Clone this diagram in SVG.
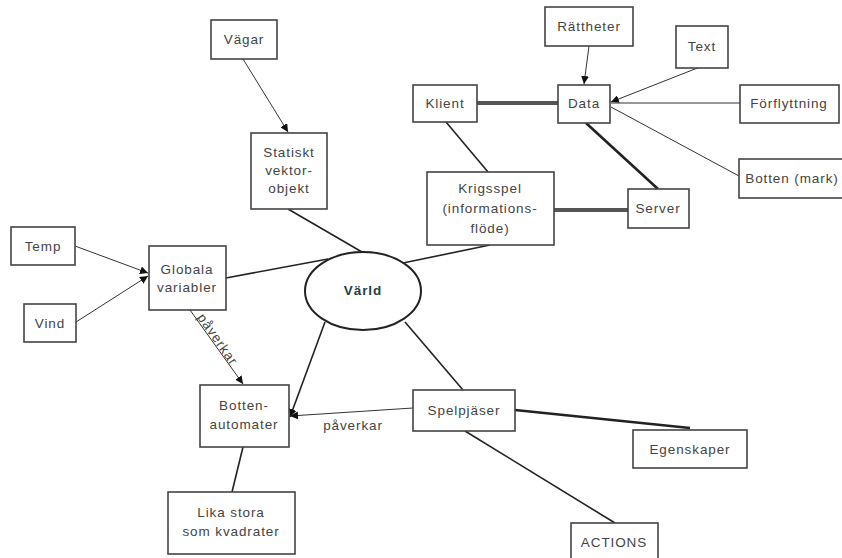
<svg xmlns="http://www.w3.org/2000/svg" width="842" height="558" viewBox="0 0 842 558">
<defs>
<marker id="arr" viewBox="0 0 10 10" refX="10" refY="5" markerWidth="8" markerHeight="8" markerUnits="userSpaceOnUse" orient="auto">
<path d="M0,0 L10,5 L0,10 z" fill="#111"/>
</marker>
</defs>
<style>
.box{fill:#fff;stroke:#444;stroke-width:1.6}
.t{font-family:"Liberation Sans",Arial,sans-serif;font-size:13.5px;letter-spacing:0.9px;fill:#444;text-anchor:middle}
.c{fill:none;stroke:#222;stroke-width:1.6}
.thin{fill:none;stroke:#333;stroke-width:1}
.thick{fill:none;stroke:#222;stroke-width:2.6}
.dbl{fill:none;stroke:#555;stroke-width:4}
</style>
<rect width="842" height="558" fill="#fff"/>
<g id="connectors">
<line class="thin" x1="243" y1="59" x2="288" y2="132" marker-end="url(#arr)"/>
<line class="c" x1="288" y1="209" x2="362" y2="252"/>
<line class="c" x1="226" y1="278" x2="328" y2="259"/>
<line class="c" x1="490" y1="245" x2="403" y2="263"/>
<line class="thin" x1="75" y1="246" x2="148" y2="273" marker-end="url(#arr)"/>
<line class="thin" x1="76" y1="322" x2="148" y2="276" marker-end="url(#arr)"/>
<line class="dbl" x1="477" y1="103" x2="558" y2="103"/>
<line class="thin" x1="589" y1="46" x2="584" y2="84" marker-end="url(#arr)"/>
<line class="thin" x1="700" y1="67" x2="611" y2="102" marker-end="url(#arr)"/>
<line class="thin" x1="740" y1="103" x2="611" y2="103"/>
<line class="thin" x1="739" y1="176" x2="611" y2="107"/>
<line class="thick" x1="586" y1="123" x2="658" y2="189"/>
<line class="c" x1="446" y1="122" x2="488" y2="172"/>
<line class="dbl" x1="554" y1="210" x2="628" y2="210"/>
<line class="thin" x1="190" y1="310" x2="243" y2="384" marker-end="url(#arr)"/>
<text class="t" transform="translate(214,342) rotate(55)">påverkar</text>
<line class="c" x1="325" y1="322" x2="290" y2="417" marker-end="url(#arr)"/>
<line class="thin" x1="413" y1="408" x2="290" y2="416" marker-end="url(#arr)"/>
<text class="t" x="353" y="430">påverkar</text>
<line class="c" x1="405" y1="322" x2="463" y2="390"/>
<line class="c" x1="243" y1="447" x2="232" y2="492"/>
<line class="thick" x1="515" y1="410" x2="690" y2="428" stroke="#444"/>
<line class="c" x1="465" y1="431" x2="615" y2="523"/>
</g>
<g id="vagar"><rect class="box" x="211" y="20" width="66" height="39"/><text class="t" x="244" y="44">Vägar</text></g>
<g id="statiskt"><rect class="box" x="251" y="133" width="76" height="76"/><text class="t" x="289" y="157">Statiskt</text><text class="t" x="289" y="175">vektor-</text><text class="t" x="289" y="193">objekt</text></g>
<g id="rattheter"><rect class="box" x="545" y="7" width="88" height="39"/><text class="t" x="589" y="31">Rättheter</text></g>
<g id="text"><rect class="box" x="676" y="26" width="52" height="42"/><text class="t" x="702" y="51">Text</text></g>
<g id="klient"><rect class="box" x="413" y="85" width="64" height="37"/><text class="t" x="445" y="108">Klient</text></g>
<g id="data"><rect class="box" x="558" y="85" width="52" height="38"/><text class="t" x="584" y="108">Data</text></g>
<g id="forflyttning"><rect class="box" x="740" y="85" width="99" height="38"/><text class="t" x="789" y="108">Förflyttning</text></g>
<g id="botten-mark"><rect class="box" x="739" y="159" width="106" height="39"/><text class="t" x="792" y="183">Botten (mark)</text></g>
<g id="krigsspel"><rect class="box" x="427" y="172" width="127" height="73"/><text class="t" x="490" y="193">Krigsspel</text><text class="t" x="490" y="213">(informations-</text><text class="t" x="490" y="233">flöde)</text></g>
<g id="server"><rect class="box" x="628" y="189" width="61" height="39"/><text class="t" x="658" y="213">Server</text></g>
<g id="temp"><rect class="box" x="11" y="227" width="64" height="38"/><text class="t" x="43" y="251">Temp</text></g>
<g id="vind"><rect class="box" x="24" y="304" width="52" height="38"/><text class="t" x="50" y="328">Vind</text></g>
<g id="globala"><rect class="box" x="149" y="246" width="77" height="64"/><text class="t" x="187" y="274">Globala</text><text class="t" x="187" y="292">variabler</text></g>
<g id="varld"><ellipse cx="363" cy="291" rx="58" ry="39" fill="#fff" stroke="#222" stroke-width="2"/><text class="t" x="363" y="295" style="fill:#1f3f4f;font-weight:bold">Värld</text></g>
<g id="botten-automater"><rect class="box" x="200" y="385" width="89" height="62"/><text class="t" x="244" y="410">Botten-</text><text class="t" x="244" y="429">automater</text></g>
<g id="lika"><rect class="box" x="168" y="492" width="127" height="62"/><text class="t" x="231" y="517">Lika stora</text><text class="t" x="231" y="536">som kvadrater</text></g>
<g id="spelpjaser"><rect class="box" x="413" y="390" width="102" height="41"/><text class="t" x="464" y="415">Spelpjäser</text></g>
<g id="egenskaper"><rect class="box" x="633" y="430" width="114" height="38"/><text class="t" x="690" y="454">Egenskaper</text></g>
<g id="actions"><rect class="box" x="571" y="523" width="87" height="40"/><text class="t" x="614" y="547">ACTIONS</text></g>
</svg>
